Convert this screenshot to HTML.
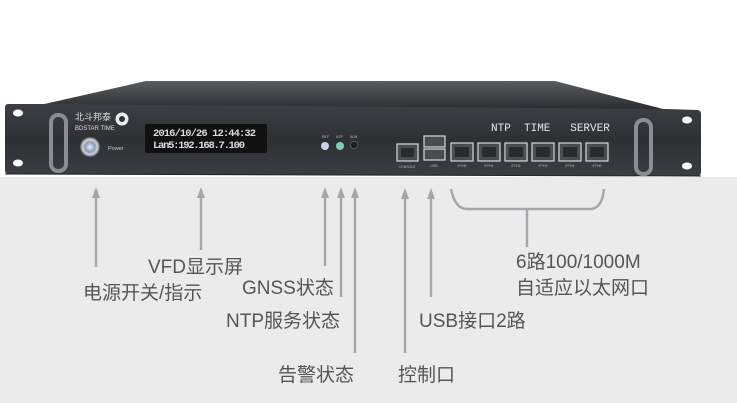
<!DOCTYPE html>
<html><head><meta charset="utf-8">
<style>
html,body{margin:0;padding:0;background:#fff;}
body{width:737px;height:403px;overflow:hidden;position:relative;}
svg{position:absolute;left:0;top:0;}
</style></head>
<body>
<svg width="737" height="403" viewBox="0 0 737 403" xmlns="http://www.w3.org/2000/svg">
<defs>
<linearGradient id="top" x1="0" y1="0" x2="0" y2="1">
<stop offset="0" stop-color="#5a5d61"/><stop offset="1" stop-color="#2a2c2f"/></linearGradient>
<linearGradient id="front" x1="0" y1="0" x2="0" y2="1">
<stop offset="0" stop-color="#3c3f43"/><stop offset="0.5" stop-color="#2e3034"/><stop offset="1" stop-color="#3a3d41"/></linearGradient>
<radialGradient id="pw" cx="0.5" cy="0.5" r="0.5">
<stop offset="0" stop-color="#e8f0ff"/><stop offset="0.5" stop-color="#8a9ab8"/><stop offset="0.75" stop-color="#d0d4da"/><stop offset="1" stop-color="#555"/></radialGradient>
</defs>
<rect x="0" y="177" width="737" height="226" fill="#ebebeb"/>
<!-- top face -->
<polygon points="40,105 146,81 555,81 667,110" fill="url(#top)"/>
<!-- front panel -->
<path d="M8,104 L40,104 L667,109 L697,110 Q701,110 701,114 L701,172 Q701,176 697,176 L9,174 Q5,174 5,170 L5,108 Q5,104 8,104 Z" fill="url(#front)"/>
<line x1="5" y1="174" x2="701" y2="176" stroke="#222" stroke-width="1"/>
<!-- ear holes -->
<ellipse cx="18" cy="113" rx="5" ry="3.5" fill="#fff"/>
<ellipse cx="18" cy="163" rx="5" ry="3.5" fill="#fff"/>
<ellipse cx="687" cy="120" rx="5" ry="3.5" fill="#fff"/>
<ellipse cx="687" cy="166" rx="5" ry="3.5" fill="#fff"/>
<!-- handles -->
<rect x="51" y="115" width="15" height="56" rx="7" fill="none" stroke="#8a8d92" stroke-width="4"/>
<rect x="636" y="120" width="15" height="54" rx="7" fill="none" stroke="#8a8d92" stroke-width="4"/>
<!-- logo -->
<text x="75" y="120" font-family="Liberation Sans,'Noto Sans CJK SC',sans-serif" font-size="9" fill="#ddd">北斗邦泰</text>
<text x="75" y="130" font-family="Liberation Sans,sans-serif" font-size="6" fill="#ddd">BDSTAR TIME</text>
<circle cx="122" cy="119" r="6.5" fill="#eee"/><circle cx="122" cy="119" r="3" fill="#333"/>
<!-- power -->
<circle cx="90" cy="147" r="10" fill="url(#pw)"/>
<text x="108" y="150" font-family="Liberation Sans,sans-serif" font-size="5.5" fill="#ccc">Power</text>
<!-- VFD -->
<rect x="145" y="124" width="122" height="29" rx="2" fill="#111"/>
<text x="153" y="136" font-family="Liberation Mono,monospace" font-size="10.5" font-weight="bold" fill="#d8dde0" textLength="103">2016/10/26 12:44:32</text>
<text x="153" y="148" font-family="Liberation Mono,monospace" font-size="10.5" font-weight="bold" fill="#d8dde0" textLength="92">Lan5:192.168.7.100</text>
<!-- LEDs -->
<g font-family="Liberation Sans,sans-serif" font-size="3.5" fill="#bbb">
<text x="322" y="138">REF</text><text x="336" y="138">NTP</text><text x="350" y="138">ALM</text></g>
<circle cx="325" cy="146" r="4" fill="#c8d4ee"/>
<circle cx="340" cy="146" r="4" fill="#7cd0b8"/>
<circle cx="354" cy="145" r="3.5" fill="#1c1c1c" stroke="#666" stroke-width="0.7"/>
<!-- NTP TIME SERVER -->
<text x="491" y="131" font-family="Liberation Mono,monospace" font-size="11" fill="#e6e6e6" xml:space="preserve">NTP  TIME   SERVER</text>
<!-- ports -->
<g fill="#4a4c50" stroke="#d8d8d8" stroke-width="1.2">
<rect x="397" y="144" width="21" height="17"/>
<rect x="424" y="136" width="21" height="11"/><rect x="424" y="149" width="21" height="11"/>
<rect x="451" y="143" width="22" height="18"/>
<rect x="478" y="143" width="22" height="18"/>
<rect x="505" y="143" width="22" height="18"/>
<rect x="532" y="143" width="22" height="18"/>
<rect x="559" y="143" width="22" height="18"/>
<rect x="586" y="143" width="22" height="18"/>
</g>
<g fill="#2a2b2e">
<rect x="401" y="148" width="13" height="9"/>
<rect x="455" y="147" width="14" height="10"/><rect x="482" y="147" width="14" height="10"/>
<rect x="509" y="147" width="14" height="10"/><rect x="536" y="147" width="14" height="10"/>
<rect x="563" y="147" width="14" height="10"/><rect x="590" y="147" width="14" height="10"/>
</g>
<g font-family="Liberation Sans,sans-serif" font-size="3.5" fill="#bbb" text-anchor="middle">
<text x="407" y="168">CONSOLE</text><text x="434" y="167">USB</text>
<text x="462" y="167">ETH0</text><text x="489" y="167">ETH1</text><text x="516" y="167">ETH2</text>
<text x="543" y="167">ETH3</text><text x="570" y="167">ETH4</text><text x="597" y="167">ETH5</text></g>
<!-- arrows -->
<g stroke="#a3a7ac" stroke-width="2.4" fill="none">
<line x1="96" y1="196" x2="96" y2="267"/>
<line x1="201" y1="196" x2="201" y2="250"/>
<line x1="325" y1="196" x2="325" y2="266"/>
<line x1="341" y1="196" x2="341" y2="297"/>
<line x1="355" y1="196" x2="355" y2="353"/>
<line x1="405" y1="196" x2="405" y2="353"/>
<line x1="431" y1="196" x2="431" y2="297"/>
<path d="M451,189 Q455,209 467,209 L590,209 Q602,209 604,189"/>
<line x1="527" y1="209" x2="527" y2="247"/>
</g>
<g fill="#a3a7ac">
<polygon points="96,187 92,198 100,198"/>
<polygon points="201,187 197,198 205,198"/>
<polygon points="325,187 321,198 329,198"/>
<polygon points="341,187 337,198 345,198"/>
<polygon points="355,187 351,198 359,198"/>
<polygon points="405,188 401,199 409,199"/>
<polygon points="431,188 427,199 435,199"/>
</g>
<!-- labels -->
<g font-family="Liberation Sans,'Noto Sans CJK SC',sans-serif" font-size="19" fill="#555">
<text x="148" y="273">VFD显示屏</text>
<text x="83" y="299">电源开关/指示</text>
<text x="242" y="294">GNSS状态</text>
<text x="226" y="327">NTP服务状态</text>
<text x="278" y="381">告警状态</text>
<text x="398" y="381">控制口</text>
<text x="419" y="327">USB接口2路</text>
<text x="516" y="268">6路100/1000M</text>
<text x="516" y="294">自适应以太网口</text>
</g>
</svg>
</body></html>
